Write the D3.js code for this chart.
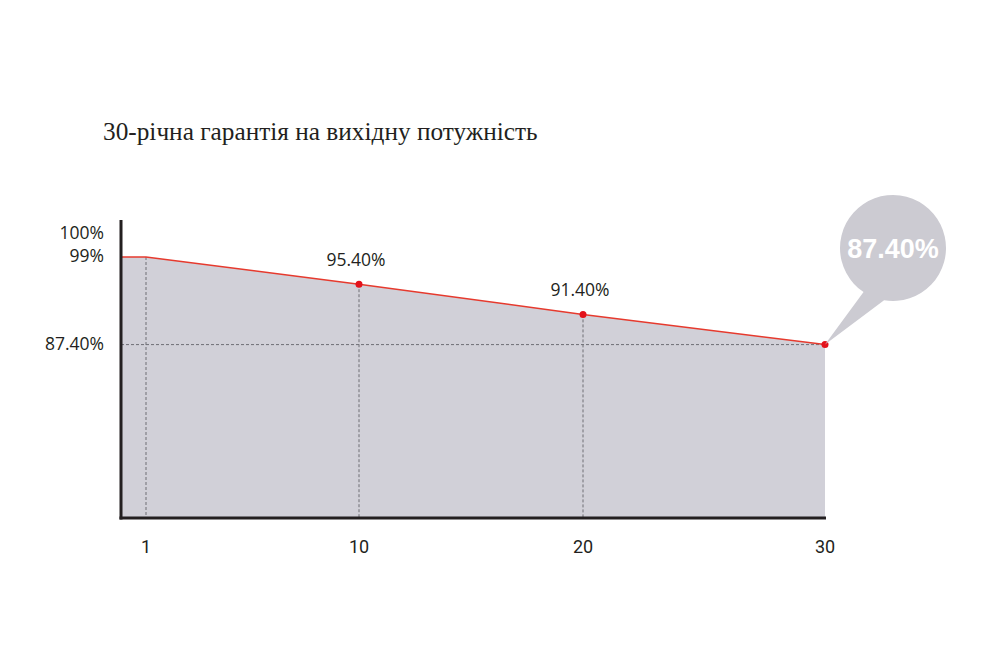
<!DOCTYPE html>
<meta charset="utf-8">
<html lang="uk">
  <head>
    <script src="https://cdn.jsdelivr.net/npm/d3@7"></script>
    <style>
      body { margin: 0; background: #fff; }
      svg text { font-family: "Open Sans", "DejaVu Sans", sans-serif; }
    </style>
  </head>
  <body>
    <svg id="chart" width="1000" height="667"></svg>
  <script>
    // chart data
    const title = '30-річна гарантія на вихідну потужність'
    const years = [0, 1, 10, 20, 30]
    const power = [99, 99, 95.4, 91.4, 87.4]
    const labeledYears = [10, 20]
    const xTicks = [1, 10, 20, 30]
    const yTicks = [100, 99, 87.4]
    const bubbleValue = 87.4

    const fmt = v => (Number.isInteger(v) ? v : v.toFixed(2)) + '%'
    const fmt2 = v => v.toFixed(2) + '%'

    const svg = d3.select('#chart')
    // the source picture is not evenly spaced in years, so a polylinear scale
    const x = d3.scaleLinear().domain([0, 1, 10, 20, 30]).range([121, 146, 359, 583, 825])
    const y = d3.scaleLinear().domain([64.44, 103.9]).range([518, 220])

    const pts = years.map((yr, i) => ({yr: yr, v: power[i]}))

    svg.append('text')
      .attr('x', 103).attr('y', 140)
      .style('font-family', '"Liberation Serif", "DejaVu Serif", serif')
      .attr('font-size', 25.3).attr('fill', '#231f20')
      .text(title)

    // area
    const area = d3.area().x(d => x(d.yr)).y0(y(64.44)).y1(d => y(d.v))
    svg.append('path').datum(pts).attr('d', area).attr('fill', '#d1d0d8')

    // dashed guides
    const guides = svg.append('g').attr('stroke', '#6e6e74').attr('stroke-width', 1)
      .attr('stroke-dasharray', '3,2')
    guides.selectAll('line.v').data(pts.filter(d => d.yr > 0 && d.yr < 30)).enter()
      .append('line').attr('class', 'v')
      .attr('x1', d => x(d.yr)).attr('x2', d => x(d.yr))
      .attr('y1', d => y(d.v)).attr('y2', y(64.44))
    guides.append('line')
      .attr('x1', x(0)).attr('x2', x(30))
      .attr('y1', y(bubbleValue)).attr('y2', y(bubbleValue))

    // red line
    const line = d3.line().x(d => x(d.yr)).y(d => y(d.v))
    svg.append('path').datum(pts).attr('d', line)
      .attr('fill', 'none').attr('stroke', '#e63a2e').attr('stroke-width', 1.5)

    svg.selectAll('circle.dot').data(pts.filter(d => d.yr >= 10)).enter()
      .append('circle').attr('class', 'dot')
      .attr('cx', d => x(d.yr)).attr('cy', d => y(d.v)).attr('r', 3.5)
      .attr('fill', '#e3121b')

    // value labels
    svg.selectAll('text.val').data(pts.filter(d => labeledYears.includes(d.yr))).enter()
      .append('text').attr('class', 'val')
      .attr('x', d => x(d.yr) - 3).attr('y', d => y(d.v) - 18)
      .attr('text-anchor', 'middle').attr('font-size', 17.5).attr('fill', '#231f20')
      .text(d => fmt2(d.v))

    // axes
    svg.append('line').attr('x1', 121).attr('x2', 121).attr('y1', 220).attr('y2', 519.5)
      .attr('stroke', '#231f20').attr('stroke-width', 3)
    svg.append('line').attr('x1', 119.5).attr('x2', 826).attr('y1', 518).attr('y2', 518)
      .attr('stroke', '#231f20').attr('stroke-width', 3)

    svg.selectAll('text.xt').data(xTicks).enter()
      .append('text').attr('class', 'xt')
      .attr('x', d => x(d)).attr('y', 553)
      .attr('text-anchor', 'middle').attr('font-size', 18).attr('fill', '#231f20')
      .style('font-family', '"Liberation Sans Narrow", "Roboto", sans-serif')
      .text(d => d)

    let prevY = 1000
    yTicks.slice().reverse().forEach(v => {
      const ty = Math.min(y(v) + 5, prevY - 23)
      prevY = ty
      svg.append('text')
        .attr('x', 104).attr('y', ty)
        .attr('text-anchor', 'end').attr('font-size', 17.5).attr('fill', '#231f20')
        .text(v === 87.4 ? fmt2(v) : fmt(v))
    })

    // speech bubble for the last value
    const px = x(30), py = y(bubbleValue)
    const cx = 893, cy = 248, r = 53
    const a1 = 1.74, a2 = 2.16
    const bubble = d3.path()
    bubble.moveTo(px, py)
    bubble.lineTo(cx + r * Math.cos(a1), cy + r * Math.sin(a1))
    bubble.arc(cx, cy, r, a1, a2, true)
    bubble.closePath()
    svg.append('path').attr('d', bubble.toString()).attr('fill', '#cccbd2')
    svg.append('text').attr('x', cx).attr('y', cy + 10)
      .attr('text-anchor', 'middle').attr('font-size', 27).attr('font-weight', 'bold')
      .style('font-family', '"Liberation Sans", Arial, sans-serif')
      .attr('fill', '#fff').text(fmt2(bubbleValue))
  </script>
  </body>
</html>
